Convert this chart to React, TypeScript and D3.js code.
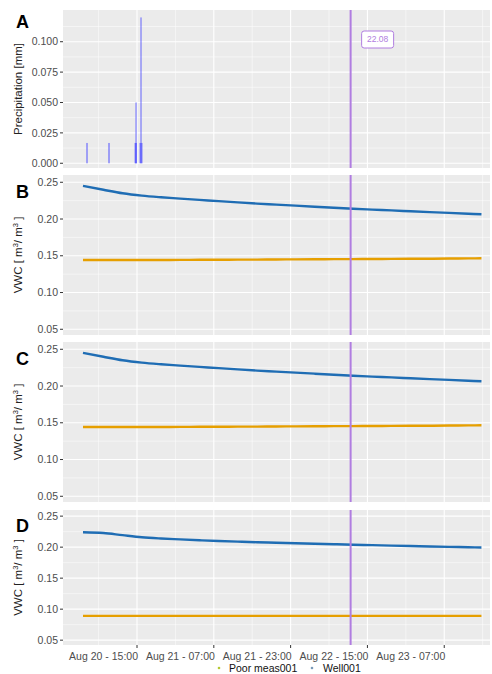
import React from "react";
import * as d3 from "d3";

// ---------- data ----------
const lineTimes = [
  "2023-08-20 03:45", "2023-08-20 08:00", "2023-08-20 12:00", "2023-08-20 16:00", "2023-08-20 20:00",
  "2023-08-21 00:00", "2023-08-21 04:00", "2023-08-21 08:00", "2023-08-21 12:00", "2023-08-21 16:00", "2023-08-21 20:00",
  "2023-08-22 00:00", "2023-08-22 04:00", "2023-08-22 08:00", "2023-08-22 12:00", "2023-08-22 16:00", "2023-08-22 20:00",
  "2023-08-23 00:00", "2023-08-23 04:00", "2023-08-23 08:00", "2023-08-23 12:00", "2023-08-23 14:45",
];
const wellB = [0.2452, 0.2398, 0.2350, 0.2318, 0.2296, 0.2278, 0.2260, 0.2243, 0.2226, 0.2210, 0.2196, 0.2182, 0.2168, 0.2154, 0.2140, 0.2128, 0.2117, 0.2105, 0.2094, 0.2083, 0.2072, 0.2065];
const poorB = [0.1443, 0.1442, 0.1442, 0.1443, 0.1443, 0.1444, 0.1445, 0.1446, 0.1447, 0.1448, 0.1450, 0.1451, 0.1452, 0.1454, 0.1455, 0.1456, 0.1458, 0.1459, 0.1460, 0.1462, 0.1464, 0.1466];
const wellC = [0.2452, 0.2398, 0.2350, 0.2318, 0.2296, 0.2278, 0.2260, 0.2243, 0.2226, 0.2210, 0.2196, 0.2182, 0.2168, 0.2154, 0.2140, 0.2128, 0.2117, 0.2105, 0.2094, 0.2083, 0.2072, 0.2065];
const poorC = [0.1443, 0.1442, 0.1442, 0.1443, 0.1443, 0.1444, 0.1445, 0.1446, 0.1447, 0.1448, 0.1450, 0.1451, 0.1452, 0.1454, 0.1455, 0.1456, 0.1458, 0.1459, 0.1460, 0.1462, 0.1464, 0.1466];
const wellD = [0.2240, 0.2228, 0.2193, 0.2160, 0.2140, 0.2125, 0.2111, 0.2099, 0.2089, 0.2079, 0.2071, 0.2063, 0.2055, 0.2047, 0.2039, 0.2032, 0.2025, 0.2018, 0.2011, 0.2005, 0.1999, 0.1995];
const poorD = [0.0892, 0.0892, 0.0892, 0.0892, 0.0892, 0.0892, 0.0892, 0.0892, 0.0892, 0.0892, 0.0892, 0.0892, 0.0892, 0.0892, 0.0892, 0.0892, 0.0892, 0.0892, 0.0892, 0.0892, 0.0892, 0.0892];

const precipTimes = ["2023-08-20 04:35", "2023-08-20 09:10", "2023-08-20 14:38", "2023-08-20 14:48", "2023-08-20 14:50", "2023-08-20 15:40", "2023-08-20 15:50", "2023-08-20 16:00"];
const precipValues = [0.0167, 0.0167, 0.0167, 0.0500, 0.0167, 0.0167, 0.1200, 0.0167];

const xTicks = ["2023-08-20 15:00", "2023-08-21 07:00", "2023-08-21 23:00", "2023-08-22 15:00", "2023-08-23 07:00"];
const xMinor = ["2023-08-20 07:00", "2023-08-20 23:00", "2023-08-21 15:00", "2023-08-22 07:00", "2023-08-22 23:00", "2023-08-23 15:00"];
const xDomain = ["2023-08-19 23:35", "2023-08-23 16:32"];
const markerTime = "2023-08-22 11:30";
const markerLabel = "22.08";

const precipTicks = [0, 0.025, 0.05, 0.075, 0.1];
const precipMinor = [0.0125, 0.0375, 0.0625, 0.0875, 0.1125];
const vwcTicks = [0.05, 0.1, 0.15, 0.2, 0.25];
const vwcMinor = [0.075, 0.125, 0.175, 0.225];
const seriesNames = ["Poor meas001", "Well001"];

// ---------- layout ----------
const W = 492, H = 674;
const left = 63, right = 490;
const parse = d3.timeParse("%Y-%m-%d %H:%M");
const fmt = d3.timeFormat("%b %d - %H:%M");

const BLUE = "#1f6db4";
const ORANGE = "#e69f00";
const PURPLE = "#b07de0";
const BG = "#ebebeb";

const x = d3.scaleTime().domain(xDomain.map((s) => parse(s) as Date)).range([left, right]);

const panels = [
  { letter: "B", top: 175, bottom: 335, well: wellB, poor: poorB },
  { letter: "C", top: 342, bottom: 502, well: wellC, poor: poorC },
  { letter: "D", top: 510, bottom: 645, well: wellD, poor: poorD },
];

const tickFont = "Liberation Sans, Arial, sans-serif";

function VGrid({ top, bottom }: { top: number; bottom: number }) {
  return (
    <g>
      {xMinor.map((t) => {
        const px = x(parse(t) as Date);
        if (px < left || px > right) return null;
        return <line key={"m" + t} x1={px} x2={px} y1={top} y2={bottom} stroke="#fff" strokeWidth={0.5} />;
      })}
      {xTicks.map((t) => {
        const px = x(parse(t) as Date);
        return <line key={t} x1={px} x2={px} y1={top} y2={bottom} stroke="#fff" strokeWidth={1.1} />;
      })}
    </g>
  );
}

function YAxis({ y, ticks, minor, format }: any) {
  return (
    <g>
      {minor.map((v: number) => (
        <line key={"m" + v} x1={left} x2={right} y1={y(v)} y2={y(v)} stroke="#fff" strokeWidth={0.5} />
      ))}
      {ticks.map((v: number) => (
        <g key={v}>
          <line x1={left} x2={right} y1={y(v)} y2={y(v)} stroke="#fff" strokeWidth={1.1} />
          <line x1={left - 3} x2={left} y1={y(v)} y2={y(v)} stroke="#333" strokeWidth={1} />
          <text x={left - 5} y={y(v)} dy="0.35em" textAnchor="end" fontSize={10.5} fill="#4d4d4d" fontFamily={tickFont}>
            {format(v)}
          </text>
        </g>
      ))}
    </g>
  );
}

function VLine({ top, bottom }: { top: number; bottom: number }) {
  const px = x(parse(markerTime) as Date);
  return <line x1={px} x2={px} y1={top} y2={bottom} stroke={PURPLE} strokeWidth={2} />;
}

export default function App() {
  const times = lineTimes.map((s) => parse(s) as Date);

  // Panel A
  const aTop = 10, aBottom = 168;
  const yA = d3.scaleLinear().domain([-0.0039, 0.1261]).range([aBottom, aTop]);
  const markerX = x(parse(markerTime) as Date);

  return (
    <svg width={W} height={H} style={{ position: "absolute", left: 0, top: 0, background: "#fff" }} fontFamily={tickFont}>
      {/* Panel A */}
      <rect x={left} y={aTop} width={right - left} height={aBottom - aTop} fill={BG} />
      <VGrid top={aTop} bottom={aBottom} />
      <YAxis y={yA} ticks={precipTicks} minor={precipMinor} format={d3.format(".3f")} />
      {precipTimes.map((t, i) => {
        const px = x(parse(t) as Date);
        const big = precipValues[i] > 0.02;
        return (
          <rect
            key={i}
            x={px - 0.6}
            y={yA(precipValues[i])}
            width={1.2}
            height={yA(0) - yA(precipValues[i])}
            fill="#4b4bff"
            opacity={big ? 0.7 : 0.8}
          />
        );
      })}
      <VLine top={aTop} bottom={aBottom} />
      <rect x={markerX + 11} y={31} width={32} height={17} rx={2.5} fill="#fff" stroke={PURPLE} strokeWidth={1} />
      <text x={markerX + 27} y={39.5} dy="0.35em" textAnchor="middle" fontSize={8.5} fill={PURPLE}>
        {markerLabel}
      </text>
      <text x={16} y={28} fontSize={18} fontWeight="bold" fill="#000">A</text>
      <text transform={`translate(22,${(aTop + aBottom) / 2}) rotate(-90)`} textAnchor="middle" fontSize={11.5} fill="#222">
        Precipitation [mm]
      </text>

      {panels.map((p) => {
        const y = d3.scaleLinear().domain([0.0422, 0.2599]).range([p.bottom, p.top]);
        const line = d3
          .line<number>()
          .x((_, i) => x(times[i]))
          .y((v) => y(v))
          .curve(d3.curveMonotoneX);
        const mid = (p.top + p.bottom) / 2;
        return (
          <g key={p.letter}>
            <rect x={left} y={p.top} width={right - left} height={p.bottom - p.top} fill={BG} />
            <VGrid top={p.top} bottom={p.bottom} />
            <YAxis y={y} ticks={vwcTicks} minor={vwcMinor} format={d3.format(".2f")} />
            <path d={line(p.poor) || ""} fill="none" stroke={ORANGE} strokeWidth={2.4} />
            <path d={line(p.well) || ""} fill="none" stroke={BLUE} strokeWidth={2.4} />
            <VLine top={p.top} bottom={p.bottom} />
            <text x={16} y={y(0.25) + 16} fontSize={18} fontWeight="bold" fill="#000">{p.letter}</text>
            <text transform={`translate(22,${mid}) rotate(-90)`} textAnchor="middle" fontSize={11.5} fill="#222">
              VWC [ m<tspan dy={-4} fontSize={7.5}>3</tspan><tspan dy={4}>/ m</tspan><tspan dy={-4} fontSize={7.5}>3</tspan><tspan dy={4}> ]</tspan>
            </text>
          </g>
        );
      })}

      {/* X axis */}
      {xTicks.map((t) => {
        const px = x(parse(t) as Date);
        return (
          <g key={t}>
            <line x1={px} x2={px} y1={645} y2={648} stroke="#333" />
            <text x={px + 1} y={660} textAnchor="end" fontSize={10.5} fill="#4d4d4d">{fmt(parse(t) as Date)}</text>
          </g>
        );
      })}

      {/* Legend */}
      <circle cx={219} cy={668} r={1.3} fill="#b5c934" />
      <text x={229} y={672} fontSize={10.5} fill="#111">{seriesNames[0]}</text>
      <circle cx={312} cy={668} r={1.3} fill="#7a9ab8" />
      <text x={323} y={672} fontSize={10.5} fill="#111">{seriesNames[1]}</text>
    </svg>
  );
}
